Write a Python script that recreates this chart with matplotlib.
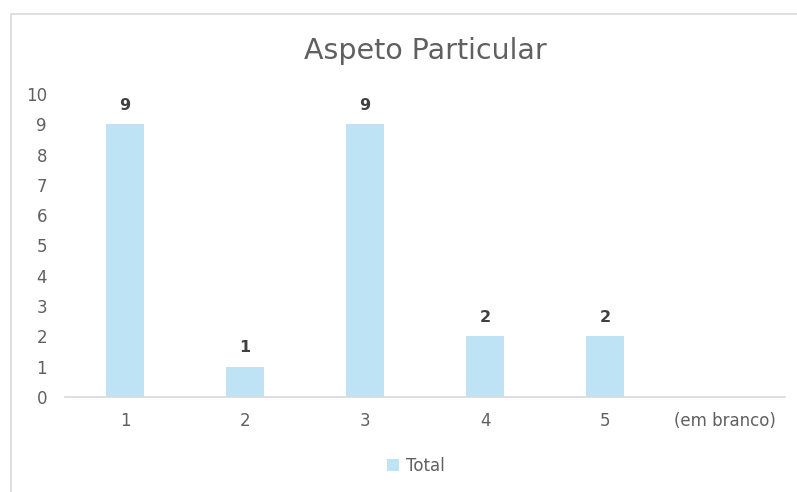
import numpy as np
import matplotlib.pyplot as plt
from matplotlib.patches import Rectangle

# Dados
categorias = ["1", "2", "3", "4", "5", "(em branco)"]
totais = [9, 1, 9, 2, 2, np.nan]
y_ticks = list(range(0, 11))

plt.rcParams['font.family'] = ['DejaVu Sans']

W, H = 797, 492
fig = plt.figure(figsize=(W / 100, H / 100), dpi=100)

# Moldura da área do gráfico (cortada à direita e em baixo)
fig.patches.append(Rectangle((11 / W, -0.1), 1.2, 1 - 14 / H + 0.1, transform=fig.transFigure,
                             fill=False, edgecolor="#d9d9d9", linewidth=1.2))

ax = fig.add_axes([65 / W, 1 - 397 / H, 720 / W, (397 - 94) / H])
x = np.arange(len(categorias))
barras = ax.bar(x, totais, width=0.32, color="#bee3f5", label="Total")

for xi, v in zip(x, totais):
    if not np.isnan(v):
        ax.text(xi, v + 0.37, str(int(v)), ha="center", va="bottom",
                fontsize=11.5, fontweight="bold", color="#404040")

ax.set_xlim(-0.5, len(categorias) - 0.5)
ax.set_ylim(0, 10)
ax.set_xticks(x)
ax.set_xticklabels(categorias)
ax.set_yticks(y_ticks)
ax.tick_params(axis="both", length=0, labelsize=12, labelcolor="#606060")
ax.tick_params(axis="x", pad=11)
ax.tick_params(axis="y", pad=13)
for s in ["top", "right", "left"]:
    ax.spines[s].set_visible(False)
ax.spines["bottom"].set_color("#d9d9d9")
ax.spines["bottom"].set_linewidth(1.2)

fig.text(425 / W, 1 - 51 / H, "Aspeto Particular", ha="center", va="center",
         fontsize=20.5, color="#606060")

fig.legend(handles=[barras], labels=["Total"], loc="center", bbox_to_anchor=(416 / W, 1 - 466 / H),
           frameon=False, fontsize=12, labelcolor="#606060", handlelength=0.7, handleheight=0.7,
           handletextpad=0.4)

fig.savefig("out.png", dpi=100)
